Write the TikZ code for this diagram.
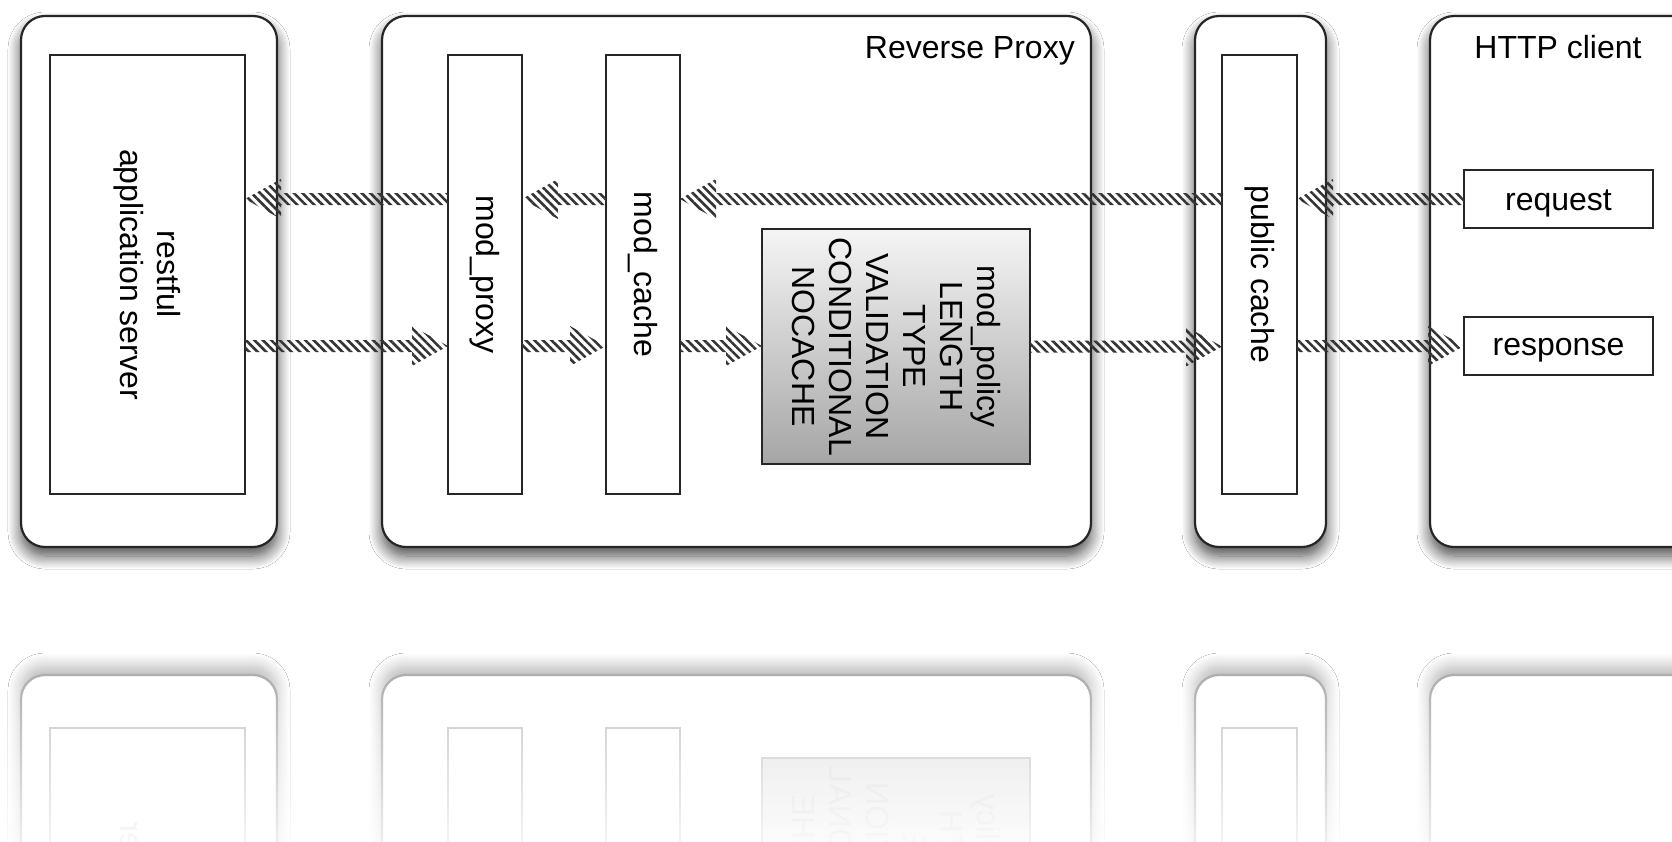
\documentclass[tikz,border=0pt]{standalone}
\usepackage{fontspec}
\setmainfont{Liberation Sans}
\usetikzlibrary{shadows.blur,patterns.meta,fadings,calc}

% white veil that hides the mirrored copy towards the bottom
\tikzfading[name=reflectfade, top color=transparent!100, bottom color=transparent!0]

\tikzset{
  container/.style={draw=black!85, line width=2.2pt, fill=white, rounded corners=24pt,
    inner sep=0pt, outer sep=0pt,
    blur shadow={shadow xshift=0pt, shadow yshift=-9pt, shadow blur radius=13pt,
      shadow blur steps=12, shadow opacity=72}},
  module/.style={draw=black!85, line width=1.8pt, fill=white, inner sep=0pt, outer sep=0pt},
  policy/.style={module, top color=black!4, bottom color=black!35},
  label/.style={font=\fontsize{32pt}{37pt}\selectfont, text=black, inner sep=0pt, align=center},
  hatch/.style={pattern={Lines[angle=-45,distance=6pt,line width=2.6pt]}, pattern color=black!80},
  % lighter variants for the mirrored copy on the floor
  mirrored/.style={
    container/.style={draw=black!32, line width=2.2pt, fill=white, rounded corners=24pt,
      inner sep=0pt, outer sep=0pt,
      blur shadow={shadow xshift=0pt, shadow yshift=9pt, shadow blur radius=13pt,
        shadow blur steps=12, shadow opacity=28}},
    module/.style={draw=black!22, line width=1.8pt, fill=white, inner sep=0pt, outer sep=0pt},
    policy/.style={module, top color=black!10, bottom color=black!2},
    label/.style={font=\fontsize{32pt}{37pt}\selectfont, text=black!14, inner sep=0pt,
      align=center, transform shape}},
}

% hatched block arrow between two points on one row
\newcommand\hatcharrow[2]{%
  \fill[hatch] let \p1=(#1), \p2=(#2), \n1={\x2-sign(\x2-\x1)*36} in
    (\x1,\y1+6) -- (\n1,\y1+6) -- (\n1,\y1+20) -- (\x2,\y1)
    -- (\n1,\y1-20) -- (\n1,\y1-6) -- (\x1,\y1-6) -- cycle;}

% containers, modules and their labels
\newcommand\scenebody{%
  \node[container, minimum width=256pt, minimum height=531pt] (appbox) at (149,-281.5) {};
  \node[container, minimum width=709pt, minimum height=531pt] (proxybox) at (736.5,-281.5) {};
  \node[container, minimum width=131pt, minimum height=531pt] (cachebox) at (1260.5,-281.5) {};
  \node[container, minimum width=290pt, minimum height=531pt] (clientbox) at (1575,-281.5) {};
  \node[label, anchor=base east] (proxytitle) at (1075,-58.5) {Reverse Proxy};
  \node[label, anchor=base] (clienttitle) at (1558,-58.5) {HTTP client};
  \node[module, minimum width=195pt, minimum height=439pt] (restful) at (147.5,-274.5) {};
  \node[label, rotate=-90] (restfultext) at (restful) {restful\\application server};
  \node[module, minimum width=74pt, minimum height=439pt] (modproxy) at (485,-274.5) {};
  \node[label, rotate=-90] (modproxytext) at (modproxy) {mod\_proxy};
  \node[module, minimum width=74pt, minimum height=439pt] (modcache) at (643,-274.5) {};
  \node[label, rotate=-90] (modcachetext) at (modcache) {mod\_cache};
  \node[policy, minimum width=268pt, minimum height=235pt] (modpolicy) at (896,-346.5) {};
  \node[label, rotate=-90] (modpolicytext) at (modpolicy)
    {mod\_policy\\LENGTH\\TYPE\\VALIDATION\\CONDITIONAL\\NOCACHE};
  \node[module, minimum width=75pt, minimum height=439pt] (pubcache) at (1259.5,-274.5) {};
  \node[label, rotate=-90] (pubcachetext) at (pubcache) {public cache};
  \node[module, minimum width=189pt, minimum height=58pt] (request) at (1558.5,-199) {};
  \node[label, yshift=-4pt] (requesttext) at (request) {request};
  \node[module, minimum width=189pt, minimum height=58pt] (response) at (1558.5,-346) {};
  \node[label, yshift=-4pt] (responsetext) at (response) {response};
}

\begin{document}
\begin{tikzpicture}[x=1pt, y=1pt]
  \useasboundingbox (0,0) rectangle (1672,-841);
  \clip (0,0) rectangle (1672,-841);
  \fill[white] (0,0) rectangle (1672,-841);

  \scenebody

  % request path, client towards the application server
  \hatcharrow{request.west}{pubcache.east |- request.west}
  \hatcharrow{pubcache.west |- request.west}{modcache.east |- request.west}
  \hatcharrow{modcache.west |- request.west}{modproxy.east |- request.west}
  \hatcharrow{modproxy.west |- request.west}{restful.east |- request.west}

  % response path, application server towards the client
  \hatcharrow{restful.east |- response.west}{modproxy.west |- response.west}
  \hatcharrow{modproxy.east |- response.west}{modcache.west |- response.west}
  \hatcharrow{modcache.east |- response.west}{modpolicy.west}
  \hatcharrow{modpolicy.east}{pubcache.west |- response.west}
  \hatcharrow{pubcache.east |- response.west}{response.west}

  % mirrored copy below the floor line
  \begin{scope}[yshift=-1222pt, yscale=-1, mirrored]
    \scenebody
  \end{scope}
  \fill[white, path fading=reflectfade] (-20,-672) rectangle (1700,-885);
\end{tikzpicture}
\end{document}
